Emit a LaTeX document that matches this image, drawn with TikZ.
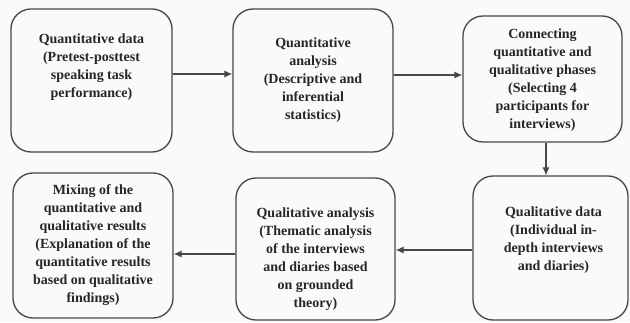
\documentclass[tikz,border=0pt]{standalone}
\usepackage{fontspec}
\setmainfont{Liberation Serif}
\usetikzlibrary{arrows.meta}

\begin{document}
\begin{tikzpicture}[x=1pt,y=1pt,
  box/.style={draw=black!72,line width=1.3pt,rounded corners=20pt,inner sep=0pt},
  lbl/.style={align=center,font=\fontsize{14}{18}\selectfont\bfseries,text=black!85},
  arr/.style={draw=black!72,line width=1.1pt,-{Latex[length=8pt,width=7pt]}}]
\fill[black!2] (0,0) rectangle (630,322);
\node[box,minimum width=161,minimum height=143] (b1) at (91.5,241.5) {};
\node[box,minimum width=160,minimum height=143] (b2) at (313,241.5) {};
\node[box,minimum width=159,minimum height=126] (b3) at (542.5,243) {};
\node[box,minimum width=155,minimum height=144] (b4) at (550.5,74) {};
\node[box,minimum width=159,minimum height=142] (b5) at (315.5,73) {};
\node[box,minimum width=160,minimum height=145] (b6) at (93,76.5) {};
\node[lbl] (t1) at ([yshift=13.5]b1.center) {Quantitative data\\(Pretest-posttest\\speaking task\\performance)};
\node[lbl] (t2) at (b2.center) {Quantitative\\analysis\\(Descriptive and\\inferential\\statistics)};
\node[lbl] (t3) at ([yshift=-1]b3.center) {Connecting\\quantitative and\\qualitative phases\\(Selecting 4\\participants for\\interviews)};
\node[lbl] (t4) at ([xshift=3,yshift=8]b4.center) {Qualitative data\\(Individual in-\\depth interviews\\and diaries)};
\node[lbl] (t5) at ([yshift=-10]b5.center) {Qualitative analysis\\(Thematic analysis\\of the interviews\\and diaries based\\on grounded\\theory)};
\node[lbl] (t6) at (b6.center) {Mixing of the\\quantitative and\\qualitative results\\(Explanation of the\\quantitative results\\based on qualitative\\findings)};
\draw[arr] ([yshift=6.5]b1.east) -- ([yshift=6.5]b1.east -| b2.west);
\draw[arr] ([yshift=5.5]b2.east) -- ([yshift=5.5]b2.east -| b3.west);
\draw[arr] ([xshift=3.5]b3.south) -- ([xshift=3.5]b3.south |- b4.north);
\draw[arr] ([yshift=-2]b4.west) -- ([yshift=-2]b4.west -| b5.east);
\draw[arr] ([yshift=-5]b5.west) -- ([yshift=-5]b5.west -| b6.east);
\end{tikzpicture}
\end{document}
